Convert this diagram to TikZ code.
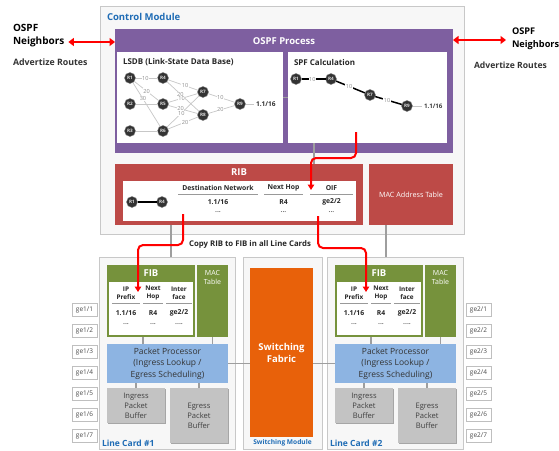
\documentclass[tikz,border=0pt]{standalone}
\usepackage{fontspec}
\setmainfont{Open Sans}
\usetikzlibrary{arrows.meta,fit,shadows}
\definecolor{cmfill}{HTML}{F7F7F7}
\definecolor{cmline}{HTML}{C8C8C8}
\definecolor{ospfpurple}{HTML}{7E5FA0}
\definecolor{ribred}{HTML}{BD4A47}
\definecolor{fibgreen}{HTML}{76923C}
\definecolor{ppblue}{HTML}{8DB4E2}
\definecolor{bufgray}{HTML}{C3C3C3}
\definecolor{fabor}{HTML}{E8610A}
\definecolor{titleblue}{HTML}{1F6CB5}
\definecolor{arrowred}{HTML}{FF0000}
\newcommand{\fs}[1]{\fontsize{#1}{#1}\selectfont}
\begin{document}
\begin{tikzpicture}[x=1pt,y=-1pt,
  every node/.style={inner sep=0pt, outer sep=0pt},
  area/.style={fit={#1}},
  rnode/.style={circle, fill=black!80, draw=black!50, line width=0.4pt, text=white!88!black, font=\fs{4.6}\bfseries, minimum size=11pt},
  glink/.style={draw=black!22, line width=0.7pt},
  blink/.style={draw=black, line width=1.5pt},
  wlbl/.style={fill=white, inner sep=0.5pt, text=black!45, font=\fs{5.6}},
  conn/.style={draw=black!38, line width=1.1pt},
  redarr/.style={draw=arrowred, line width=2pt, -{Triangle[length=5.5pt,width=6.5pt]}, rounded corners=5pt},
  redbi/.style={draw=arrowred, line width=2pt, {Triangle[length=5.5pt,width=8pt]}-{Triangle[length=5.5pt,width=8pt]}},
  shad/.style={drop shadow={shadow xshift=1.2pt, shadow yshift=-1.2pt, fill=black!35, opacity=1}},
  port/.style={draw=black!25, fill=white, minimum width=25pt, minimum height=13pt, font=\fs{6.5}, text=black!70, shad},
  hdr/.style={font=\fs{6.8}\bfseries, text=black!85, minimum height=12pt},
  fhdr/.style={font=\fontsize{6.4}{7.6}\selectfont\bfseries, text=black!85, minimum height=20pt, align=center},
  cell/.style={font=\fs{6.8}\bfseries, text=black!85},
  dots/.style={font=\fs{6.8}\bfseries, text=black!55},
]
\useasboundingbox (0,0) rectangle (559,450);

% ---------------- Control module ----------------
\node[area={(100,6) (464,234)}, fill=cmfill, draw=cmline, line width=0.8pt] (cm) {};
\node[anchor=west, font=\fs{9.5}\bfseries, text=titleblue] (cmt) at (107,17) {Control Module};
\node[area={(115,29) (453,153)}, fill=ospfpurple] (ospf) {};
\node[font=\fs{9.5}\bfseries, text=white] (ospft) at ([yshift=-12pt]ospf.north) {OSPF Process};
\node[area={(117,52) (283,143)}, fill=white] (lsdb) {};
\node[area={(288,52) (447,143)}, fill=white] (spf) {};
\node[anchor=west, font=\fs{8}\bfseries, text=black!85] (lsdbt) at (123,62) {LSDB (Link-State Data Base)};
\node[anchor=west, font=\fs{8}\bfseries, text=black!85] (spft) at (294,62) {SPF Calculation};

% LSDB graph
\node[rnode] (l1) at (130,78) {R1};
\node[rnode] (l4) at (163,78) {R4};
\node[rnode] (l2) at (130,104) {R2};
\node[rnode] (l5) at (163,104) {R5};
\node[rnode] (l3) at (130,131) {R3};
\node[rnode] (l6) at (163,131) {R6};
\node[rnode] (l7) at (203,92) {R7};
\node[rnode] (l8) at (203,115) {R8};
\node[rnode] (l9) at (240,104) {R9};
\node[anchor=west, font=\fs{6.6}\bfseries, text=black!80, outer xsep=2pt] (ldst) at (254,104) {1.1/16};
\foreach \a/\b in {l1/l4,l1/l5,l1/l6,l2/l5,l3/l6,l4/l7,l4/l8,l5/l7,l5/l8,l6/l7,l6/l8,l7/l9,l8/l9}
  \draw[glink] (\a) -- (\b);
\draw[glink] (l9) -- (ldst.west);
\foreach \a/\b/\t/\p in {l1/l4/10/.45,l1/l5/20/.5,l1/l6/30/.37,l4/l7/10/.57,l4/l8/20/.42,l5/l7/10/.45,l5/l8/20/.42,l6/l7/10/.45,l6/l8/20/.57,l7/l9/10/.46,l8/l9/20/.46}
  \path (\a) -- node[wlbl, pos=\p] {\t} (\b);

% SPF graph
\node[rnode] (s1) at (296,79) {R1};
\node[rnode] (s4) at (331,79) {R4};
\node[rnode] (s7) at (370,95) {R7};
\node[rnode] (s9) at (407,106) {R9};
\node[anchor=west, font=\fs{6.2}\bfseries, text=black!75, outer xsep=2pt] (sdst) at (422,106) {1.1/16};
\draw[blink] (s1) -- node[wlbl, pos=.45] {10} (s4);
\draw[blink] (s4) -- node[wlbl, pos=.45] {10} (s7);
\draw[blink] (s7) -- node[wlbl, pos=.45] {10} (s9);
\draw[glink] (s9) -- (sdst.west);

% RIB
\node[area={(115,164) (363,225)}, fill=ribred] (rib) {};
\node[font=\fs{9.5}\bfseries, text=white] (ribt) at ([yshift=-8pt]rib.north) {RIB};
\node[area={(123,181) (356,221)}, fill=white] (ribin) {};
\node[rnode] (r1) at (132,202) {R1};
\node[rnode] (r4) at (162,202) {R4};
\draw[blink] (r1) -- (r4);
\node[hdr, minimum width=80pt] (h1) at (218,188) {Destination Network};
\node[hdr, minimum width=39pt] (h2) at (283.5,188) {Next Hop};
\node[hdr, minimum width=43pt] (h3) at (331.5,188) {OIF};
\foreach \h in {h1,h2,h3} \draw[black!40, line width=0.7pt] (\h.south west) -- (\h.south east);
\node[cell] (rc1) at (218,202) {1.1/16};
\node[cell] (rc2) at (283.5,202) {R4};
\node[cell] (rc3) at (331.5,202) {ge2/2};
\node[dots] (rd1) at (218,212) {...};
\node[dots] (rd2) at (283.5,212) {...};
\node[dots] (rd3) at (331.5,212) {...};
\node[area={(369,164) (453,225)}, fill=ribred] (mac) {};
\node[font=\fs{7.2}, text=white] (mact) at (mac.center) {MAC Address Table};

% ---------------- Line cards ----------------
\foreach \i/\dx in {1/0,2/228} {
\begin{scope}[shift={(\dx,0)}]
  \node[area={(99,257) (235,449)}, fill=cmfill, draw=cmline, line width=0.8pt] (lc\i) {};
  \node[area={(107,265) (195,337)}, fill=fibgreen] (fib\i) {};
  \node[font=\fs{9.5}\bfseries, text=white] (fibt\i) at (151,273) {FIB};
  \node[area={(109,282) (193,335)}, fill=white] (fibin\i) {};
  \node[fhdr, minimum width=28pt] (fa\i) at (126,293) {IP\\Prefix};
  \node[fhdr, minimum width=20pt] (fb\i) at (153,293) {Next\\Hop};
  \node[fhdr, minimum width=26pt] (fc\i) at (179,293) {Inter\\face};
  \draw[black!40, line width=0.7pt] (fa\i.south west) -- (fa\i.south east);
  \draw[black!40, line width=0.7pt] (fb\i.south west) -- (fb\i.south east);
  \draw[black!40, line width=0.7pt] (fc\i.south west) -- (fc\i.south east);
  \node[cell] (fr1\i) at (126,313) {1.1/16};
  \node[cell] (fr2\i) at (153,313) {R4};
  \node[cell] (fr3\i) at (179,313) {ge2/2};
  \node[dots] (fd1\i) at (126,324) {...};
  \node[dots] (fd2\i) at (153,324) {...};
  \node[dots] (fd3\i) at (179,324) {....};
  \node[area={(197,265) (228,337)}, fill=fibgreen] (mac\i) {};
  \node[font=\fontsize{7}{9}\selectfont, text=white, align=center] (mact\i) at (212.5,277) {MAC\\Table};
  \node[area={(107,344) (228,383)}, fill=ppblue] (pp\i) {};
  \node[font=\fontsize{8.5}{11.5}\selectfont, text=black!80, align=center] (ppt\i) at (pp\i.center) {Packet Processor\\(Ingress Lookup /\\Egress Scheduling)};
  \node[area={(107,388) (165,423)}, fill=bufgray, shad] (ing\i) {};
  \node[font=\fontsize{7.6}{10}\selectfont, text=black!75, align=center] (ingt\i) at (ing\i.center) {Ingress\\Packet\\Buffer};
  \node[area={(170,388) (228,443)}, fill=bufgray, shad] (egr\i) {};
  \node[font=\fontsize{7.6}{10}\selectfont, text=black!75, align=center] (egrt\i) at (199,416) {Egress\\Packet\\Buffer};
  \node[anchor=west, font=\fs{8.5}\bfseries, text=titleblue] (lct\i) at (102,443) {Line Card \#\i};
  \coordinate (cf\i) at ([xshift=36pt]fib\i.south west);
  \draw[conn] (cf\i) -- (cf\i |- pp\i.north);
  \draw[conn] (mac\i.south) -- (mac\i.south |- pp\i.north);
  \draw[conn] (ing\i.north) -- (ing\i.north |- pp\i.south);
  \draw[conn] (egr\i.north) -- (egr\i.north |- pp\i.south);
  \coordinate (tip\i) at (138,292);
\end{scope}
}
\foreach \k in {1,...,7} {
  \node[port] (pa\k) at (84.5,{309.5+21*(\k-1)}) {ge1/\k};
  \node[port] (pb\k) at (478.5,{309.5+21*(\k-1)}) {ge2/\k};
}

% Switching module
\node[area={(243,257) (322,449)}, fill=cmfill, draw=cmline, line width=0.8pt] (sm) {};
\node[area={(250,268) (313,437)}, fill=fabor] (fab) {};
\node[font=\fontsize{9.5}{12}\selectfont\bfseries, text=white, align=center] (fabt) at (fab.center) {Switching\\Fabric};
\node[font=\fs{6.6}\bfseries, text=titleblue] (smt) at (282.5,443) {Switching Module};

% gray connectors
\draw[conn] (lsdb.east) -- (spf.west);
\coordinate (c1) at ([xshift=26pt]spf.south west);
\draw[conn] (c1) -- (c1 |- rib.north);
\coordinate (c2) at ([xshift=56pt]rib.south west);
\draw[conn] (c2) -- (c2 |- lc1.north);
\coordinate (c3) at ([xshift=17pt]mac.south west);
\draw[conn] (c3) -- (c3 |- lc2.north);
\draw[conn] (pp1.east) -- (pp1.east -| fab.west);
\draw[conn] (pp2.west -| fab.east) -- (pp2.west);

% OSPF neighbors
\node[anchor=west, font=\fontsize{10}{13}\selectfont\bfseries, align=left, outer xsep=4pt] (nbl) at (9,36) {OSPF\\Neighbors};
\node[anchor=west, font=\fs{8.8}\bfseries, text=black!80] (advl) at (13,62) {Advertize Routes};
\node[anchor=west, font=\fontsize{9.2}{13}\selectfont\bfseries, align=left, outer xsep=6pt] (nbr) at (506,39) {OSPF\\Neighbors};
\node[anchor=west, font=\fs{8.6}\bfseries, text=black!80] (advr) at (474,65) {Advertize Routes};
\coordinate (la) at ([yshift=-13pt]ospf.north west);
\coordinate (ra) at ([yshift=-11pt]ospf.north east);
\draw[redbi] (nbl.east |- la) -- (la);
\draw[redbi] (ra) -- (nbr.west |- ra);

% red arrows
\coordinate (s1a) at ([xshift=68pt,yshift=11pt]spf.south west);
\coordinate (t1) at (311,190);
\draw[redarr] (s1a) -- ++(0,26) -| (t1);
\coordinate (s2a) at ([xshift=60pt,yshift=7pt]ribin.south west);
\draw[redarr] (s2a) -- ++(0,31) -| (tip1);
\coordinate (s3a) at ([xshift=195pt,yshift=5pt]ribin.south west);
\draw[redarr] (s3a) -- ++(0,32) -| (tip2);
\node[font=\fs{7.8}\bfseries, text=black!85] (copyt) at (250,244) {Copy RIB to FIB in all Line Cards};
\end{tikzpicture}
\end{document}
